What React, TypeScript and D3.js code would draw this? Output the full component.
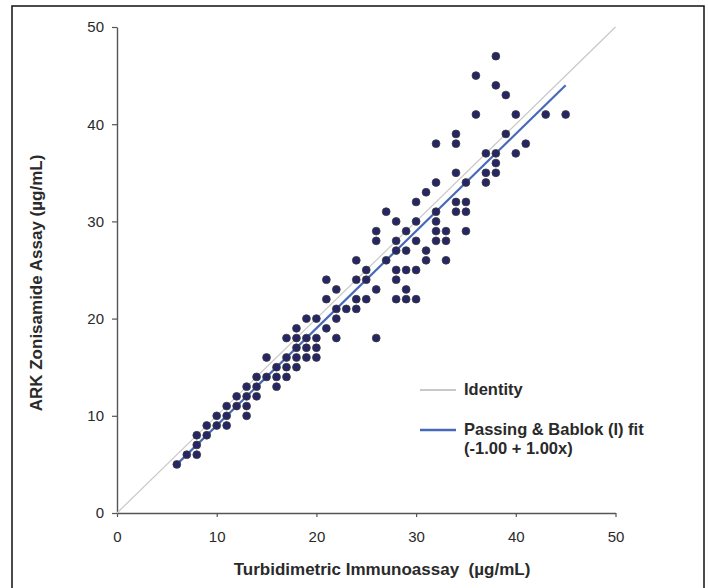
import { useEffect, useRef } from "react";
import * as d3 from "d3";

// method comparison: turbidimetric (x) vs ARK (y), µg/mL
const xValues = [
  38, 36, 38, 39, 36, 40, 43, 45, 34, 39, 32, 34, 41, 37, 38, 40, 38, 34, 37, 38,
  32, 35, 37, 31, 34, 35, 32, 34, 35, 32, 32, 33, 35, 32, 33,
  30, 27, 28, 30, 26, 29, 26, 28, 30, 28, 29, 31, 24, 27, 31, 33, 25, 28, 29, 30,
  21, 24, 25, 28, 22, 26, 29, 21, 24, 25, 28, 29, 30, 22, 23, 24, 19, 20, 22,
  18, 21, 17, 18, 19, 20, 22, 26, 18, 19, 20, 15, 17, 18, 19, 20,
  16, 17, 18, 14, 15, 16, 17, 13, 14, 16, 12, 13, 14, 11, 12, 13, 10, 11, 13,
  9, 10, 11, 8, 9, 8, 7, 8, 6,
];
const yValues = [
  47, 45, 44, 43, 41, 41, 41, 41, 39, 39, 38, 38, 38, 37, 37, 37, 36, 35, 35, 35,
  34, 34, 34, 33, 32, 32, 31, 31, 31, 30, 29, 29, 29, 28, 28,
  32, 31, 30, 30, 29, 29, 28, 28, 28, 27, 27, 27, 26, 26, 26, 26, 25, 25, 25, 25,
  24, 24, 24, 24, 23, 23, 23, 22, 22, 22, 22, 22, 22, 21, 21, 21, 20, 20, 20,
  19, 19, 18, 18, 18, 18, 18, 18, 17, 17, 17, 16, 16, 16, 16, 16,
  15, 15, 15, 14, 14, 14, 14, 13, 13, 13, 12, 12, 12, 11, 11, 11, 10, 10, 10,
  9, 9, 9, 8, 8, 7, 6, 6, 5,
];
const tickValues = [0, 10, 20, 30, 40, 50];
const fitRange = [6, 45];
const fitIntercept = -1.0;
const fitSlope = 1.0;
const legendLabels = ["Identity", "Passing & Bablok (I) fit", "(-1.00 + 1.00x)"];

export default function App() {
  const svgRef = useRef<SVGSVGElement>(null);

  useEffect(() => {
    if (!svgRef.current) return;
    const width = 708;
    const height = 588;
    const svg = d3.select(svgRef.current).attr("width", width).attr("height", height);
    svg.selectAll("*").remove();

    const x = d3.scaleLinear().domain([0, 50]).range([117, 615.5]);
    const y = d3.scaleLinear().domain([0, 50]).range([513, 27]);
    const font = "'Liberation Sans', Arial, sans-serif";
    const ink = "#2a2a2a";

    // outer frame
    svg
      .append("rect")
      .attr("x", 12)
      .attr("y", 6)
      .attr("width", 692)
      .attr("height", 600)
      .attr("fill", "white")
      .attr("stroke", "#111")
      .attr("stroke-width", 1.5);

    // axes
    const yAxis = svg
      .append("g")
      .attr("transform", `translate(${x(0)},0)`)
      .call(d3.axisLeft(y).tickValues(tickValues).tickSize(5).tickPadding(8).tickSizeOuter(0));
    const xAxis = svg
      .append("g")
      .attr("transform", `translate(0,${y(0)})`)
      .call(d3.axisBottom(x).tickValues(tickValues).tickSize(4).tickPadding(14).tickSizeOuter(0));
    for (const ax of [yAxis, xAxis]) {
      ax.select(".domain").attr("stroke", "#555").attr("stroke-width", 1.4);
      ax.selectAll(".tick line").attr("stroke", "#555").attr("stroke-width", 1.2);
      ax.selectAll(".tick text")
        .attr("fill", ink)
        .style("font-family", font)
        .style("font-size", "15px");
    }

    // identity line
    svg
      .append("line")
      .attr("x1", x(0))
      .attr("y1", y(0))
      .attr("x2", x(50))
      .attr("y2", y(50))
      .attr("stroke", "#c8c8c8")
      .attr("stroke-width", 1.2);

    // Passing & Bablok fit
    const fit = d3
      .line<number>()
      .x((d) => x(d))
      .y((d) => y(fitIntercept + fitSlope * d));
    svg
      .append("path")
      .attr("d", fit(fitRange))
      .attr("fill", "none")
      .attr("stroke", "#4669b9")
      .attr("stroke-width", 2.2);

    // points
    svg
      .append("g")
      .selectAll("circle")
      .data(xValues.map((v, i) => [v, yValues[i]]))
      .join("circle")
      .attr("cx", (d) => x(d[0]))
      .attr("cy", (d) => y(d[1]))
      .attr("r", 3.9)
      .attr("fill", "#262666")
      .attr("stroke", "#3a3a3a")
      .attr("stroke-width", 0.8);

    // axis titles
    svg
      .append("text")
      .attr("x", 382)
      .attr("y", 575)
      .attr("text-anchor", "middle")
      .attr("fill", ink)
      .style("font-family", font)
      .style("font-size", "17px")
      .style("font-weight", "bold")
      .style("white-space", "pre")
      .text("Turbidimetric Immunoassay  (µg/mL)");
    svg
      .append("text")
      .attr("transform", "translate(42,283) rotate(-90)")
      .attr("text-anchor", "middle")
      .attr("fill", ink)
      .style("font-family", font)
      .style("font-size", "17px")
      .style("font-weight", "bold")
      .text("ARK Zonisamide Assay (µg/mL)");

    // legend
    const legend = svg.append("g");
    const items = [
      { color: "#c8c8c8", w: 2, ly: 390, lines: [legendLabels[0]] },
      { color: "#4669b9", w: 2.4, ly: 430, lines: [legendLabels[1], legendLabels[2]] },
    ];
    items.forEach((it) => {
      legend
        .append("line")
        .attr("x1", 420)
        .attr("x2", 456)
        .attr("y1", it.ly)
        .attr("y2", it.ly)
        .attr("stroke", it.color)
        .attr("stroke-width", it.w);
      it.lines.forEach((t, j) => {
        legend
          .append("text")
          .attr("x", 464)
          .attr("y", it.ly + 5 + j * 19)
          .attr("fill", ink)
          .style("font-family", font)
          .style("font-size", "16.5px")
          .style("font-weight", "bold")
          .text(t);
      });
    });
  }, []);

  return (
    <div>
      <style>{`body{margin:0}`}</style>
      <svg ref={svgRef} style={{ display: "block" }} />
    </div>
  );
}
